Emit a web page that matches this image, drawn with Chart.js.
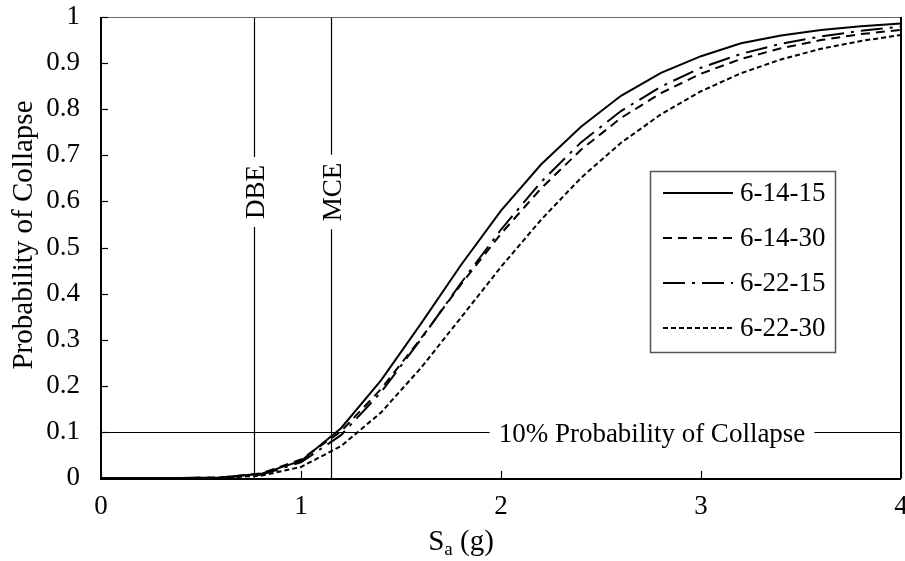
<!DOCTYPE html>
<html><head><meta charset="utf-8">
<script src="https://cdn.jsdelivr.net/npm/chart.js@4/dist/chart.umd.min.js"></script>
<style>html,body{margin:0;padding:0;background:#fff}#wrap{width:905px;height:561px}</style>
</head><body><div id="wrap"><canvas id="c" width="905" height="561"></canvas></div>
<script>
// ---- data ----
const sa = [0,0.2,0.4,0.6,0.8,1.0,1.2,1.4,1.6,1.8,2.0,2.2,2.4,2.6,2.8,3.0,3.2,3.4,3.6,3.8,4.0];
const p_6_14_15 = [0,0,0,0.001,0.009,0.037,0.108,0.212,0.335,0.462,0.580,0.680,0.762,0.829,0.879,0.915,0.943,0.960,0.972,0.980,0.986];
const p_6_14_30 = [0,0,0,0.001,0.010,0.040,0.101,0.193,0.303,0.420,0.530,0.628,0.712,0.781,0.835,0.877,0.909,0.932,0.950,0.963,0.972];
const p_6_22_15 = [0,0,0,0.001,0.007,0.034,0.093,0.186,0.301,0.423,0.539,0.642,0.728,0.796,0.849,0.890,0.920,0.942,0.958,0.970,0.979];
const p_6_22_30 = [0,0,0,0,0.005,0.024,0.069,0.142,0.239,0.348,0.458,0.560,0.651,0.727,0.789,0.839,0.878,0.908,0.931,0.948,0.961];
const seriesLabels = ['6-14-15','6-14-30','6-22-15','6-22-30'];
const xTickValues = [0,1,2,3,4];
const yTickValues = [0,0.1,0.2,0.3,0.4,0.5,0.6,0.7,0.8,0.9,1];
const dbeSa = 0.767, mceSa = 1.15;
const collapseLevel = 0.1;
const vLabels = ['DBE','MCE'];
const hLabel = '10% Probability of Collapse';
const xTitleMain = 'S', xTitleSub = 'a', xTitleRest = ' (g)';
const yTitle = 'Probability of Collapse';

const FONT = "'Liberation Serif','Times New Roman',serif";
const FS = 26, FT = 27, FA = 29;

function pts(p){ return sa.map((x,i)=>({x:x,y:p[i]})); }
const styles = [
  {dash:[], w:2},
  {dash:[9,6], w:2},
  {dash:[22,7,3,7], w:2},
  {dash:[5,3], w:2}
];
const allSeries = [p_6_14_15,p_6_14_30,p_6_22_15,p_6_22_30];
const datasets = allSeries.map((p,i)=>({
  label: seriesLabels[i], data: pts(p), borderColor:'#000', backgroundColor:'#000',
  borderWidth: styles[i].w, borderDash: styles[i].dash, pointRadius:0, tension:0, fill:false
}));

const annot = {
  id:'annot',
  beforeDatasetsDraw(chart){
    const {ctx, chartArea:a, scales:{x,y}} = chart;
    ctx.save();
    ctx.strokeStyle='#000'; ctx.lineWidth=1.2; ctx.setLineDash([]);
    ctx.font = FT+'px '+FONT; ctx.fillStyle='#000';
    [dbeSa, mceSa].forEach((v,i)=>{
      const px = Math.round(x.getPixelForValue(v))+0.5;
      ctx.beginPath(); ctx.moveTo(px,a.top); ctx.lineTo(px,a.bottom); ctx.stroke();
      const cy = 192;
      const w = ctx.measureText(vLabels[i]).width;
      ctx.fillStyle='#fff'; ctx.fillRect(px-13, cy-w/2-8, 26, w+16);
      ctx.fillStyle='#000';
      ctx.save(); ctx.translate(px+1, cy); ctx.rotate(-Math.PI/2);
      ctx.textAlign='center'; ctx.textBaseline='middle'; ctx.fillText(vLabels[i],0,1);
      ctx.restore();
    });
    const py = Math.round(y.getPixelForValue(collapseLevel))+0.5;
    ctx.beginPath(); ctx.moveTo(a.left,py); ctx.lineTo(a.right,py); ctx.stroke();
    const w = ctx.measureText(hLabel).width;
    const cx = 652;
    ctx.fillStyle='#fff'; ctx.fillRect(cx-w/2-9, py-12, w+18, 24);
    ctx.fillStyle='#000'; ctx.textAlign='center'; ctx.textBaseline='middle';
    ctx.fillText(hLabel, cx, py+2);
    ctx.restore();
  },
  afterDraw(chart){
    const {ctx, chartArea:a, scales:{x,y}} = chart;
    ctx.save();
    ctx.setLineDash([]);
    ctx.strokeStyle='#666'; ctx.lineWidth=1;
    ctx.strokeRect(a.left+0.5, a.top+0.5, a.right-a.left, a.bottom-a.top);
    ctx.strokeStyle='#000'; ctx.lineWidth=2;
    ctx.beginPath(); ctx.moveTo(a.left, a.top); ctx.lineTo(a.left, a.bottom+1); ctx.lineTo(a.right, a.bottom+1); ctx.stroke();
    ctx.beginPath(); ctx.moveTo(a.right, a.top); ctx.lineTo(a.right, a.bottom); ctx.stroke();
    ctx.lineWidth=1.2;
    yTickValues.forEach(v=>{ const py=Math.round(y.getPixelForValue(v))+0.5;
      ctx.beginPath(); ctx.moveTo(a.left,py); ctx.lineTo(a.left+7,py); ctx.stroke(); });
    xTickValues.forEach(v=>{ const px=Math.round(x.getPixelForValue(v))+0.5;
      ctx.beginPath(); ctx.moveTo(px,a.bottom); ctx.lineTo(px,a.bottom-7); ctx.stroke(); });
    // x title with subscript
    ctx.fillStyle='#000'; ctx.textBaseline='alphabetic'; ctx.textAlign='left';
    const fMain = FA+'px '+FONT, fSub = Math.round(FA*0.65)+'px '+FONT;
    ctx.font=fMain; const w1=ctx.measureText(xTitleMain).width, w3=ctx.measureText(xTitleRest).width;
    ctx.font=fSub; const w2=ctx.measureText(xTitleSub).width;
    const tot=w1+w2+w3; let sx = 461 - tot/2; const base=550;
    ctx.font=fMain; ctx.fillText(xTitleMain, sx, base); sx+=w1;
    ctx.font=fSub; ctx.fillText(xTitleSub, sx, base+5); sx+=w2;
    ctx.font=fMain; ctx.fillText(xTitleRest, sx, base);
    // y title
    ctx.save(); ctx.translate(24, 235); ctx.rotate(-Math.PI/2);
    ctx.font=fMain; ctx.textAlign='center'; ctx.textBaseline='middle';
    ctx.fillText(yTitle, 0, 0); ctx.restore();
    // legend
    const L={x:650,y:171,w:185,h:181};
    ctx.fillStyle='#fff'; ctx.fillRect(L.x,L.y,L.w,L.h);
    ctx.strokeStyle='#555'; ctx.lineWidth=1.5; ctx.strokeRect(L.x+0.5,L.y+0.5,L.w,L.h);
    chart.data.datasets.forEach((ds,i)=>{
      const ry = 193 + i*45;
      ctx.strokeStyle='#000'; ctx.lineWidth=ds.borderWidth; ctx.setLineDash(ds.borderDash);
      ctx.beginPath(); ctx.moveTo(663,ry); ctx.lineTo(733,ry); ctx.stroke();
      ctx.setLineDash([]);
      ctx.fillStyle='#000'; ctx.font=FT+'px '+FONT; ctx.textBaseline='middle'; ctx.textAlign='left';
      ctx.fillText(ds.label, 740, ry+1);
    });
    ctx.restore();
  }
};

new Chart(document.getElementById('c'), {
  type:'line',
  data:{datasets},
  options:{
    responsive:false, animation:false, devicePixelRatio:1,
    layout:{padding:{top:17,right:4,left:0,bottom:0}},
    plugins:{legend:{display:false}, tooltip:{enabled:false}},
    scales:{
      x:{type:'linear', min:0, max:4,
        afterBuildTicks(s){ s.ticks = xTickValues.map(v=>({value:v})); },
        ticks:{font:{family:FONT,size:FT}, color:'#000', padding:13, maxRotation:0},
        grid:{display:false, drawTicks:false}, border:{display:false},
        afterFit(s){ s.height=83; s.paddingLeft=0; s.paddingRight=0; }
      },
      y:{type:'linear', min:0, max:1,
        afterBuildTicks(s){ s.ticks = yTickValues.map(v=>({value:v})); },
        ticks:{font:{family:FONT,size:FT}, color:'#000', padding:21,
          callback:(v)=>String(Math.round(v*10)/10)},
        grid:{display:false, drawTicks:false}, border:{display:false},
        title:{display:false},
        afterFit(s){ s.width=101; s.paddingTop=0; s.paddingBottom=0; }
      }
    }
  },
  plugins:[annot]
});
</script></body></html>
